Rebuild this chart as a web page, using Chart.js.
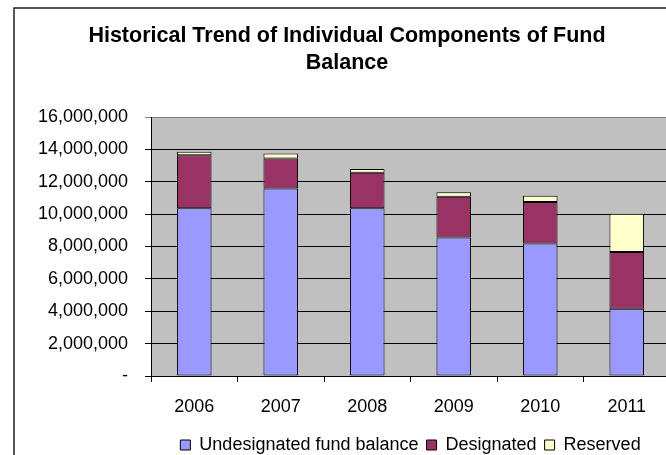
<!DOCTYPE html>
<html>
<head>
<meta charset="utf-8">
<script src="https://cdn.jsdelivr.net/npm/chart.js@4.4.1/dist/chart.umd.min.js"></script>
<style>
  html, body { margin: 0; padding: 0; background: #fff; overflow: hidden; }
  canvas { display: block; }
</style>
</head>
<body>
<canvas id="fundChart" width="670" height="472"></canvas>
<script>
// Chart data
const years = ['2006', '2007', '2008', '2009', '2010', '2011'];
const undesignated = [10360000, 11590000, 10360000, 8550000, 8180000, 4160000];
const designated = [3270000, 1840000, 2200000, 2530000, 2570000, 3500000];
const reserved = [230000, 310000, 230000, 270000, 390000, 2370000];
const yTicks = [0, 2000000, 4000000, 6000000, 8000000, 10000000, 12000000, 14000000, 16000000];

const FONT = "'Liberation Sans', Arial, sans-serif";

// grey plot background plus the outer frame of the chart
const plotBackground = {
    id: 'plotBackground',
    beforeDraw(chart) {
        const { ctx, chartArea } = chart;
        ctx.save();
        ctx.fillStyle = '#c0c0c0';
        ctx.fillRect(chartArea.left, chartArea.top, chartArea.right - chartArea.left, chartArea.bottom - chartArea.top);
        ctx.restore();
    },
    afterDraw(chart) {
        const ctx = chart.ctx;
        ctx.save();
        ctx.strokeStyle = '#222';
        ctx.lineWidth = 1.5;
        ctx.beginPath();
        ctx.moveTo(14, chart.height);
        ctx.lineTo(14, 8);
        ctx.lineTo(chart.width, 8);
        ctx.stroke();
        ctx.restore();
    }
};

const ctx = document.getElementById('fundChart').getContext('2d');
const chart = new Chart(ctx, {
    type: 'bar',
    data: {
        labels: years,
        datasets: [
            {
                label: 'Undesignated fund balance',
                data: undesignated,
                backgroundColor: '#9999ff',
                borderColor: '#000',
                borderWidth: 1
            },
            {
                label: 'Designated',
                data: designated,
                backgroundColor: '#993366',
                borderColor: '#000',
                borderWidth: 1
            },
            {
                label: 'Reserved',
                data: reserved,
                backgroundColor: '#ffffcc',
                borderColor: '#000',
                borderWidth: 1
            }
        ]
    },
    options: {
        responsive: false,
        animation: false,
        layout: { padding: { left: 24, right: 0, top: 0, bottom: 8 } },
        datasets: {
            bar: { categoryPercentage: 1, barPercentage: 0.4, borderSkipped: false }
        },
        scales: {
            x: {
                stacked: true,
                afterFit(scale) { scale.height = 52; },
                grid: {
                    offset: true,
                    drawOnChartArea: false,
                    drawTicks: true,
                    tickLength: 6,
                    color: '#000'
                },
                border: { color: '#000', width: 1 },
                ticks: {
                    color: '#000',
                    padding: 14,
                    font: { family: FONT, size: 18 }
                }
            },
            y: {
                stacked: true,
                min: 0,
                max: 16000000,
                afterFit(scale) { scale.width = 127; },
                afterBuildTicks(scale) { scale.ticks = yTicks.map(v => ({ value: v })); },
                grid: {
                    color: c => (c.tick && c.tick.value === 16000000) ? '#808080' : '#000',
                    tickLength: 6,
                    lineWidth: 1
                },
                border: { color: '#000', width: 1 },
                ticks: {
                    color: '#000',
                    padding: 17,
                    font: { family: FONT, size: 18 },
                    callback: v => v === 0 ? '-' : v.toLocaleString('en-US')
                }
            }
        },
        plugins: {
            title: {
                display: true,
                text: ['Historical Trend of Individual Components of Fund', 'Balance'],
                color: '#000',
                font: { family: FONT, size: 21.5, weight: 'bold', lineHeight: 1.256 },
                padding: { top: 23, bottom: 40 }
            },
            legend: {
                position: 'bottom',
                fullSize: false,
                labels: {
                    color: '#000',
                    boxWidth: 10,
                    boxHeight: 10,
                    padding: 8,
                    font: { family: FONT, size: 18 }
                }
            },
            tooltip: { enabled: false }
        }
    },
    plugins: [plotBackground]
});
</script>
</body>
</html>
